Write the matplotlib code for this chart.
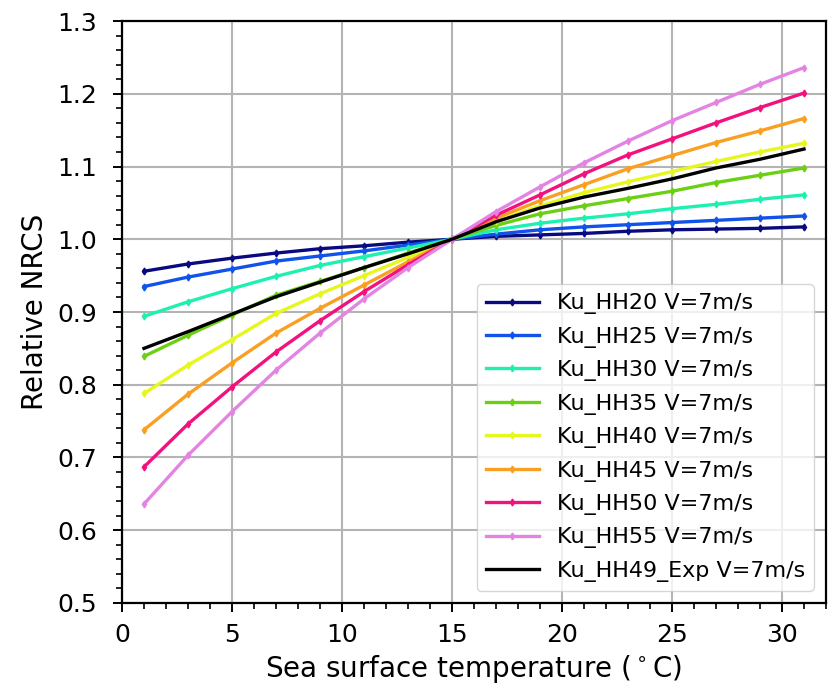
import numpy as np
import matplotlib
matplotlib.use("Agg")
import matplotlib.pyplot as plt
from matplotlib.ticker import MultipleLocator

# Sea surface temperature samples (deg C)
sst = [1, 3, 5, 7, 9, 11, 13, 15, 17, 19, 21, 23, 25, 27, 29, 31]

# Relative NRCS at Ku band, HH polarisation, wind speed 7 m/s
hh20 = [0.956, 0.966, 0.974, 0.981, 0.987, 0.991, 0.996, 1.000,
        1.004, 1.006, 1.008, 1.011, 1.013, 1.014, 1.015, 1.017]
hh25 = [0.935, 0.948, 0.959, 0.970, 0.977, 0.984, 0.992, 1.000,
        1.007, 1.013, 1.017, 1.020, 1.023, 1.026, 1.029, 1.032]
hh30 = [0.894, 0.914, 0.932, 0.949, 0.964, 0.976, 0.988, 1.000,
        1.013, 1.022, 1.029, 1.035, 1.042, 1.048, 1.055, 1.061]
hh35 = [0.839, 0.868, 0.896, 0.923, 0.942, 0.961, 0.981, 1.000,
        1.019, 1.035, 1.046, 1.056, 1.066, 1.078, 1.088, 1.098]
hh40 = [0.788, 0.827, 0.862, 0.898, 0.925, 0.950, 0.975, 1.000,
        1.025, 1.046, 1.064, 1.079, 1.093, 1.107, 1.120, 1.132]
hh45 = [0.738, 0.787, 0.830, 0.871, 0.905, 0.937, 0.969, 1.000,
        1.029, 1.053, 1.075, 1.097, 1.115, 1.133, 1.149, 1.166]
hh50 = [0.687, 0.746, 0.797, 0.845, 0.888, 0.928, 0.965, 1.000,
        1.033, 1.061, 1.090, 1.116, 1.138, 1.160, 1.181, 1.201]
hh55 = [0.636, 0.703, 0.763, 0.820, 0.871, 0.918, 0.961, 1.000,
        1.038, 1.072, 1.105, 1.135, 1.163, 1.188, 1.213, 1.236]
hh49_exp = [0.850, 0.873, 0.897, 0.921, 0.941, 0.961, 0.980, 1.000,
            1.024, 1.043, 1.058, 1.070, 1.083, 1.098, 1.110, 1.124]

model_series = [hh20, hh25, hh30, hh35, hh40, hh45, hh50, hh55]
model_labels = ["Ku_HH20 V=7m/s", "Ku_HH25 V=7m/s", "Ku_HH30 V=7m/s",
                "Ku_HH35 V=7m/s", "Ku_HH40 V=7m/s", "Ku_HH45 V=7m/s",
                "Ku_HH50 V=7m/s", "Ku_HH55 V=7m/s"]
model_colors = ["#0a0a80", "#1052ea", "#1ef0b0", "#6cd012",
                "#e6f71e", "#f9a022", "#f2127e", "#e384e3"]
exp_label = "Ku_HH49_Exp V=7m/s"

fig = plt.figure(figsize=(8.31, 6.87), dpi=100)
ax = fig.add_axes([0.1468, 0.1223, 0.8472, 0.8471])

for y, lab, col in zip(model_series, model_labels, model_colors):
    ax.plot(sst, y, color=col, lw=2.4, marker="d", ms=3.5,
            label=lab, zorder=3)
ax.plot(sst, hh49_exp, color="black", lw=2.4, label=exp_label, zorder=3)

ax.set_xlim(0, 32)
ax.set_ylim(0.5, 1.3)
ax.xaxis.set_major_locator(MultipleLocator(5))
ax.xaxis.set_minor_locator(MultipleLocator(1))
ax.yaxis.set_major_locator(MultipleLocator(0.1))
ax.yaxis.set_minor_locator(MultipleLocator(0.02))
ax.grid(True, which="major", color="#b4b4b4", lw=1.5, zorder=0)

for sp in ax.spines.values():
    sp.set_linewidth(1.6)
ax.tick_params(which="major", length=6.5, width=1.4, labelsize=18)
ax.tick_params(axis="y", which="major", pad=11.5)
ax.tick_params(axis="x", which="major", pad=8)
ax.tick_params(which="minor", length=4, width=1.2)

ax.set_xlabel("Sea surface temperature ($^\\circ$C)", fontsize=20,
              labelpad=4)
ax.set_ylabel("Relative NRCS", fontsize=20, labelpad=6)

leg = ax.legend(loc="lower right", fontsize=16, handlelength=2.4,
                labelspacing=0.56, borderaxespad=0.55, framealpha=0.8)
leg.get_frame().set_edgecolor("#cccccc")

fig.savefig("out.png", dpi=100)
